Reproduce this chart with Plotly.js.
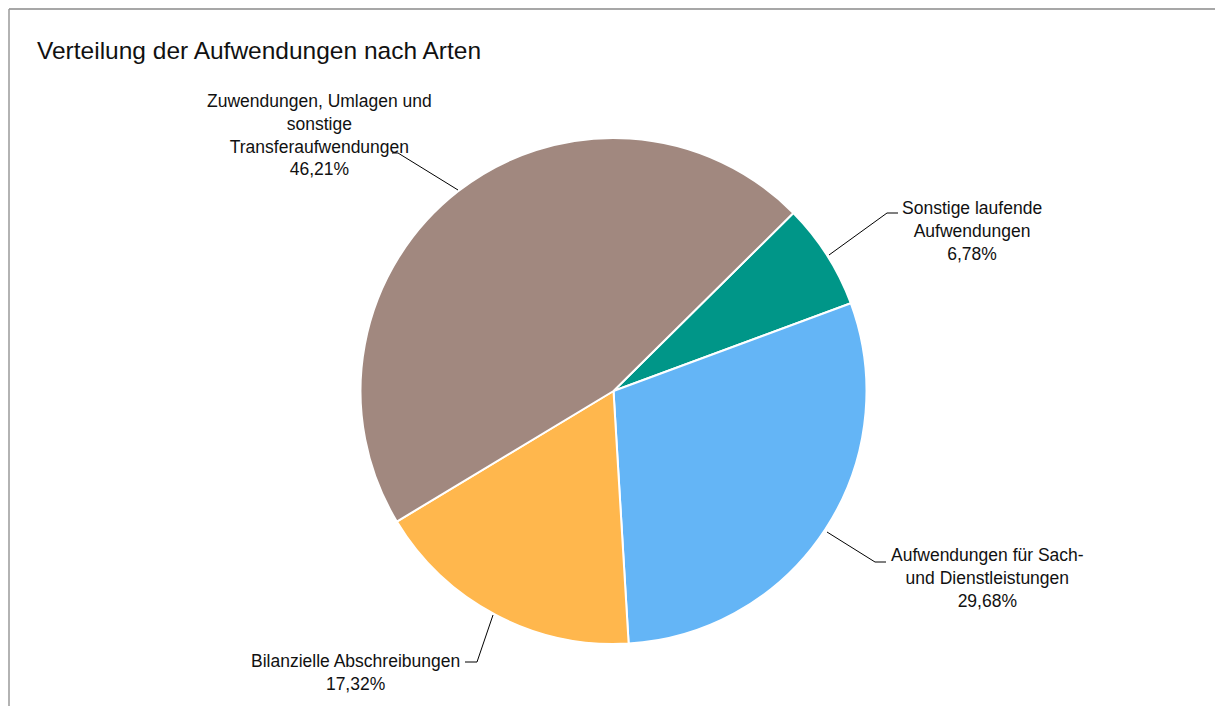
<!DOCTYPE html>
<html>
<head>
<meta charset="utf-8">
<script src="https://cdn.plot.ly/plotly-3.0.1.min.js"></script>
<style>
  html, body { margin: 0; padding: 0; background: #fff; }
  #chart { width: 1215px; height: 706px; }
</style>
</head>
<body>
<div id="chart"></div>
<script>
// ---- data ----
const categories = [
  "Sonstige laufende Aufwendungen",
  "Aufwendungen für Sach- und Dienstleistungen",
  "Bilanzielle Abschreibungen",
  "Zuwendungen, Umlagen und sonstige Transferaufwendungen"
];
const labelLines = [
  ["Sonstige laufende", "Aufwendungen"],
  ["Aufwendungen für Sach-", "und Dienstleistungen"],
  ["Bilanzielle Abschreibungen"],
  ["Zuwendungen, Umlagen und", "sonstige", "Transferaufwendungen"]
];
const shares = [6.78, 29.68, 17.32, 46.21];
const colors = ["#009688", "#64B5F6", "#FFB74D", "#A1887F"];

// ---- layout helpers (pixel -> paper) ----
const W = 1215, H = 706;
const px = x => x / W;
const py = y => 1 - y / H;

// label anchor positions (centre of text block, pixels)
const labelPos = [[972, 231], [987, 578], [355, 672], [319, 135]];
// leader polylines (pixels)
const leaders = [
  [[829, 255], [887, 213], [898, 213]],
  [[827, 532], [875, 562], [886, 562]],
  [[493, 615], [477, 662], [465, 662]],
  [[458, 190], [398, 153], [392, 153]]
];

function fmt(v) { return v.toFixed(2).replace('.', ',') + '%'; }

const annotations = categories.map((c, i) => ({
  text: labelLines[i].concat([fmt(shares[i])]).join('<br>'),
  x: px(labelPos[i][0]), y: py(labelPos[i][1]),
  xref: 'paper', yref: 'paper',
  xanchor: 'center', yanchor: 'middle',
  showarrow: false, align: 'center',
  font: {family: 'Liberation Sans, Arial, sans-serif', size: 17.5, color: '#111'}
}));

const shapes = leaders.map(pts => ({
  type: 'path', xref: 'paper', yref: 'paper',
  path: pts.map((p, k) => (k ? 'L ' : 'M ') + px(p[0]) + ' ' + py(p[1])).join(' '),
  line: {color: '#000', width: 1}
}));
// chart frame (top and left edges)
shapes.push({type: 'line', xref: 'paper', yref: 'paper', x0: px(9), x1: px(1215), y0: py(9), y1: py(9), line: {color: '#8a8a8a', width: 1.5}});
shapes.push({type: 'line', xref: 'paper', yref: 'paper', x0: px(9), x1: px(9), y0: py(9), y1: py(706), line: {color: '#9a9a9a', width: 1.5}});

const trace = {
  type: 'pie',
  labels: categories,
  values: shares,
  sort: false,
  direction: 'clockwise',
  rotation: 45.3,
  textinfo: 'none',
  hoverinfo: 'label+percent',
  marker: {colors: colors, line: {color: '#fff', width: 2}},
  domain: {x: [px(360), px(867)], y: [py(644), py(138)]},
  showlegend: false
};

const layout = {
  width: W, height: H,
  margin: {l: 0, r: 0, t: 0, b: 0},
  paper_bgcolor: '#fff',
  title: {
    text: 'Verteilung der Aufwendungen nach Arten',
    x: px(37), xanchor: 'left', xref: 'paper',
    y: py(50), yanchor: 'middle', yref: 'paper',
    font: {family: 'Liberation Sans, Arial, sans-serif', size: 24.5, color: '#111'}
  },
  annotations: annotations,
  shapes: shapes
};

Plotly.newPlot('chart', [trace], layout, {displayModeBar: false, staticPlot: true});
</script>
</body>
</html>
